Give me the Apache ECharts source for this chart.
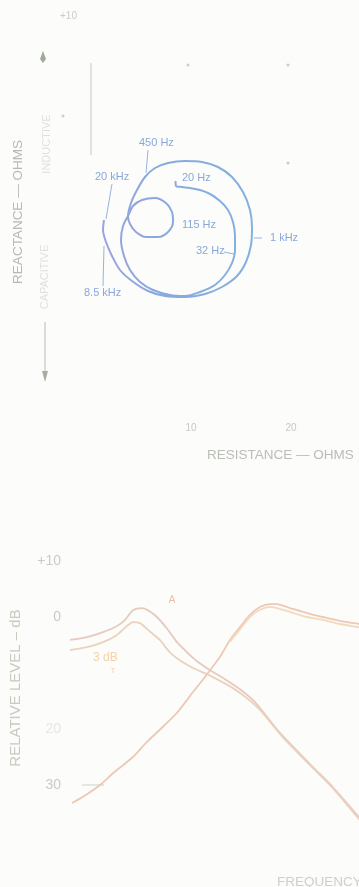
<!DOCTYPE html>
<html><head><meta charset="utf-8">
<script src="https://cdn.jsdelivr.net/npm/echarts@6/dist/echarts.min.js"></script>
<style>html,body{margin:0;padding:0;background:#fcfcfa;}#c{width:359px;height:887px;}</style>
</head><body><div id="c"></div>
<script>
// ---------- Top chart: impedance locus (resistance vs reactance, ohms) ----------
const loopResistance = [
  8.45, 8.5, 9.1, 9.9, 10.9, 11.9, 12.9, 13.7, 14.2, 14.4, 14.4, 14.1, 13.4, 12.4, 10.9, 9.4, 7.9, 6.2, 4.9, 3.9, 3.3, 3.0, 3.2, 3.7,
  4.2, 5.1, 6.4, 7.5, 8.1, 8.2, 7.7, 6.7, 5.5, 4.5, 3.9, 3.7,
  4.0, 4.6, 5.4, 6.4, 7.7, 9.4, 11.1, 12.7, 14.1, 15.2, 15.9, 16.1, 16.0, 15.5, 14.6, 13.1, 11.4, 9.4, 7.4, 5.7, 4.1, 2.9, 2.1, 1.5, 1.2, 1.3
];
const loopReactance = [
  1.7, 1.45, 1.4, 1.35, 1.25, 1.05, 0.7, 0.25, -0.35, -1.05, -1.75, -2.4, -3.0, -3.5, -3.85, -4.05, -4.0, -3.75, -3.35, -2.75, -2.05, -1.25, -0.55, -0.05,
  0.45, 0.75, 0.85, 0.6, 0.15, -0.35, -0.85, -1.1, -1.1, -0.85, -0.45, -0.05,
  0.6, 1.25, 1.9, 2.35, 2.6, 2.7, 2.65, 2.4, 1.9, 1.15, 0.25, -0.65, -1.5, -2.35, -3.05, -3.6, -3.95, -4.1, -4.05, -3.8, -3.3, -2.75, -2.05, -1.35, -0.75, -0.25
];
const resistanceTicks = [10, 20];
const reactanceAxisStub = [[0, 7.6], [0, 3.0]];
const gridDots = [[-2.8, 4.95], [9.7, 7.5], [19.7, 7.5], [19.7, 2.6]];

// ---------- Bottom chart: relative level (dB) vs frequency (Hz) ----------
const lowPassA = [[20,-4.1],[27.7,-3.6],[37.7,-2.7],[49.3,-1.6],[57.5,-0.5],[67,1.2],[79.6,1.6],[89.3,1.2],[106,0],[129,-2.1],[156,-4.5],[189,-6.3],[229,-7.9],[294,-9.5],[391,-11.1],[522,-12.9],[696,-15.2],[1125,-20.7],[2119,-26.8],[3110,-30.4],[5747,-37]];
const lowPassB = [[20,-5.9],[27.7,-5.4],[37.7,-4.5],[49.3,-3.2],[59.7,-1.6],[67,-0.9],[76.6,-1.1],[89.3,-2.3],[112,-4.1],[136,-6.3],[172,-8.0],[212,-9.1],[277,-10.2],[356,-11.4],[456,-12.7],[597,-14.5],[766,-16.6],[1169,-21.3],[2119,-27.0],[3110,-30.6],[5747,-37.4]];
const highPassA = [[20.8,-33.2],[25.7,-32.1],[35.6,-30.0],[45.6,-27.9],[67,-25.0],[87.6,-22.3],[119,-19.6],[156,-17.1],[212,-13.4],[267,-10.7],[294,-9.5],[356,-7.1],[431,-4.1],[522,-1.8],[632,0.4],[766,1.8],[928,2.3],[1062,2.3],[1362,1.6],[1888,0.7],[2566,0],[3556,-0.7],[5120,-1.25],[5747,-1.4]];
const highPassB = [[431,-4.4],[522,-2.2],[632,0],[766,1.3],[928,1.8],[1062,1.6],[1362,0.9],[1888,0],[2566,-0.5],[3556,-1.25],[5747,-2.0]];
const levelTickLabels = {'10':'+10','0':'0','-20':'{f|20}','-30':'30'};

const FONT = '"Liberation Sans", Arial, sans-serif';
const zip = (a, b) => a.map((v, i) => [v, b[i]]);
const chart = echarts.init(document.getElementById('c'));

function txt(text, x, y, size, fill, opts) {
  opts = opts || {};
  return {
    type: 'text', x: x, y: y, rotation: opts.rot || 0, z: 10,
    style: {
      text: text, font: size + 'px ' + FONT, fill: fill,
      align: opts.align || 'left', verticalAlign: 'middle',
      textAlign: opts.align || 'left', textVerticalAlign: 'middle'
    }
  };
}
function ln(x1, y1, x2, y2, stroke, w) {
  return { type: 'line', z: 10, shape: {x1, y1, x2, y2}, style: {stroke: stroke, lineWidth: w || 1} };
}
const R90 = Math.PI / 2;
const blueTxt = '#88a8da';
const bluePtr = '#96b4df';

const option = {
  backgroundColor: '#fcfcfa',
  animation: false,
  grid: [
    {left: -9, top: 15, width: 400, height: 400, containLabel: false, outerBoundsMode: 'none'},
    {left: 70, top: 561, width: 360, height: 280, containLabel: false, outerBoundsMode: 'none'}
  ],
  xAxis: [
    {type: 'value', gridIndex: 0, min: -10, max: 30, interval: 10,
     axisLine: {show: false}, axisTick: {show: false}, splitLine: {show: false},
     axisLabel: {margin: 8, color: '#c6cac3', fontSize: 10, fontFamily: FONT,
       formatter: v => resistanceTicks.indexOf(v) >= 0 ? String(v) : ''}},
    {type: 'log', gridIndex: 1, min: 20, max: 20000, logBase: 10,
     axisLine: {show: false}, axisTick: {show: false}, splitLine: {show: false}, axisLabel: {show: false}}
  ],
  yAxis: [
    {type: 'value', gridIndex: 0, min: -10, max: 10,
     axisLine: {show: false}, axisTick: {show: false}, splitLine: {show: false}, axisLabel: {show: false}},
    {type: 'value', gridIndex: 1, min: -40, max: 10, interval: 10,
     axisLine: {show: false}, axisTick: {show: false}, splitLine: {show: false},
     axisLabel: {margin: 9, color: '#c8cdc2', fontSize: 14, fontFamily: FONT,
       formatter: v => levelTickLabels[String(v)] || '',
       rich: {f: {color: '#e6e8e2', fontSize: 14, fontFamily: FONT}}}}
  ],
  series: [
    {type: 'line', xAxisIndex: 0, yAxisIndex: 0, data: reactanceAxisStub, showSymbol: false, silent: true,
     lineStyle: {color: '#d9dcd5', width: 1.5}},
    {type: 'scatter', xAxisIndex: 0, yAxisIndex: 0, data: gridDots, symbolSize: 3, silent: true,
     itemStyle: {color: '#bec3ba'}},
    {type: 'line', xAxisIndex: 0, yAxisIndex: 0, data: zip(loopResistance, loopReactance),
     smooth: 0.3, showSymbol: false, clip: false,
     lineStyle: {width: 2, color: new echarts.graphic.LinearGradient(0, 0, 1, 0, [
       {offset: 0, color: '#9ea2e0'}, {offset: 0.35, color: '#8aa8de'}, {offset: 1, color: '#82b2df'}])}},
    {type: 'line', xAxisIndex: 1, yAxisIndex: 1, data: lowPassA, smooth: 0.25, showSymbol: false,
     lineStyle: {width: 1.8, color: '#e6cabe'}},
    {type: 'line', xAxisIndex: 1, yAxisIndex: 1, data: lowPassB, smooth: 0.25, showSymbol: false,
     lineStyle: {width: 1.8, color: '#ebd2bd'}},
    {type: 'line', xAxisIndex: 1, yAxisIndex: 1, data: highPassA, smooth: 0.25, showSymbol: false,
     lineStyle: {width: 1.8, color: '#eec8b4'}},
    {type: 'line', xAxisIndex: 1, yAxisIndex: 1, data: highPassB, smooth: 0.25, showSymbol: false,
     lineStyle: {width: 1.8, color: '#f3dabd'}}
  ],
  graphic: [
    // top chart labels
    txt('REACTANCE — OHMS', 18, 212, 13.5, '#b5bbb2', {rot: R90, align: 'center'}),
    txt('INDUCTIVE', 47, 144, 11, '#dfe2da', {rot: R90, align: 'center'}),
    txt('CAPACITIVE', 45, 277, 11, '#dfe2da', {rot: R90, align: 'center'}),
    txt('+10', 60, 16, 10, '#c9cdc5'),
    txt('RESISTANCE — OHMS', 207, 455, 13.5, '#b9beb7'),
    {type: 'polygon', z: 10, shape: {points: [[43, 51], [46, 59], [43, 63], [40, 59]]}, style: {fill: '#9fa99b'}},
    ln(45, 322, 45, 373, '#b8beb4', 1),
    {type: 'polygon', z: 10, shape: {points: [[42, 371], [48, 371], [45, 382]]}, style: {fill: '#a5ada1'}},
    // frequency annotations
    txt('450 Hz', 139, 143, 11, blueTxt),
    txt('20 kHz', 95, 177, 11, blueTxt),
    txt('20 Hz', 182, 178, 11, blueTxt),
    txt('115 Hz', 182, 225, 11, blueTxt),
    txt('32 Hz', 196, 251, 11, blueTxt),
    txt('8.5 kHz', 84, 293, 11, blueTxt),
    txt('1 kHz', 270, 238, 11, blueTxt),
    ln(148, 150, 146, 173, bluePtr),
    ln(112, 184, 106, 219, bluePtr),
    ln(103, 286, 104, 246, bluePtr),
    ln(224, 252, 234, 254, bluePtr),
    ln(254, 238, 262, 238, bluePtr),
    // bottom chart labels
    txt('RELATIVE LEVEL – dB', 16, 688, 15, '#c6ccc0', {rot: R90, align: 'center'}),
    txt('FREQUENCY', 277, 882, 13.5, '#cdd1ca'),
    txt('A', 172, 600, 10, '#efbea6', {align: 'center'}),
    txt('3 dB', 93, 658, 12, '#f4d3a6'),
    txt('T', 113, 671, 8, '#f1d1ad', {align: 'center'}),
    ln(82, 785, 104, 785, '#cdd2c9', 1)
  ]
};
chart.setOption(option);
</script>
</body></html>
